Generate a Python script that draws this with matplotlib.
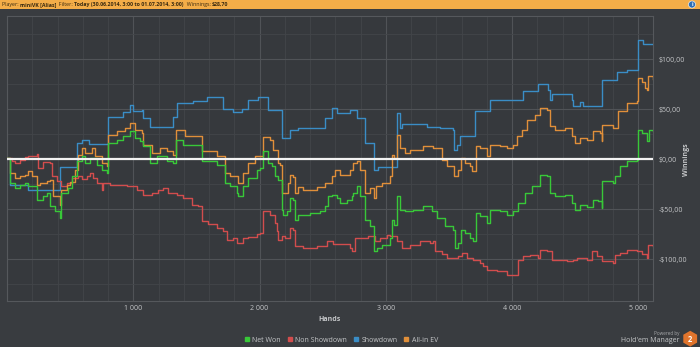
import matplotlib
matplotlib.use("Agg")
import matplotlib.pyplot as plt
import matplotlib.patches as patches
from matplotlib.ticker import MultipleLocator, FuncFormatter

plt.rcParams.update({'font.family': ['Open Sans', 'DejaVu Sans'], 'font.size': 5})

# Cumulative winnings per hand played (USD)
showdown_hands = [0, 24, 169, 420, 557, 591, 650, 802, 921, 974,
                  1000, 1067, 1080, 1133, 1317, 1344, 1476, 1582, 1713, 1793,
                  1859, 1911, 1990, 2070, 2175, 2241, 2307, 2519, 2571, 2611,
                  2717, 2770, 2835, 2907, 2941, 3086, 3110, 3130, 3324, 3429,
                  3530, 3540, 3562, 3588, 3707, 3825, 4089, 4208, 4287, 4300,
                  4314, 4472, 4485, 4538, 4564, 4710, 4829, 4908, 5000, 5040,
                  5116]
showdown = [1, -26, -31, -8, 16, 19, 15, 42, 47, 54,
            48, 49, 41, 32, 42, 56, 58, 62, 50, 47,
            50, 59, 62, 49, 21, 29, 31, 41, 51, 46,
            49, 41, 16, -11, -8, 46, 31, 35, 32, 31,
            29, 9, 14, 23, 48, 59, 68, 75, 69, 59,
            65, 59, 53, 57, 53, 79, 87, 89, 119, 115,
            115]

allin_hands = [0, 24, 63, 103, 143, 169, 195, 235, 261, 314,
               341, 367, 420, 425, 473, 499, 539, 565, 591, 618,
               671, 697, 750, 790, 803, 869, 935, 974, 1014, 1067,
               1080, 1146, 1212, 1265, 1317, 1338, 1410, 1502, 1542, 1661,
               1727, 1766, 1832, 1872, 1911, 1965, 2025, 2083, 2110, 2149,
               2163, 2176, 2229, 2242, 2268, 2281, 2308, 2347, 2453, 2519,
               2572, 2598, 2638, 2717, 2743, 2770, 2796, 2836, 2875, 2907,
               2923, 2968, 3034, 3047, 3065, 3087, 3113, 3153, 3192, 3298,
               3377, 3443, 3483, 3540, 3574, 3593, 3627, 3667, 3680, 3714,
               3746, 3799, 3825, 3904, 3957, 4010, 4036, 4076, 4115, 4181,
               4221, 4274, 4300, 4340, 4419, 4472, 4498, 4538, 4591, 4643,
               4696, 4709, 4715, 4802, 4841, 4907, 4987, 5000, 5026, 5053,
               5066, 5079, 5116]
allin_ev = [1, -14, -19, -17, -16, -12, -17, -26, -24, -22,
            -21, -37, -46, -31, -26, -23, -11, 4, 11, 6,
            11, 3, -4, -7, 24, 28, 31, 36, 29, 26,
            14, 6, 11, 8, 4, 29, 23, 23, 8, 3,
            -14, -17, -24, -14, -4, 3, 22, 19, 9, -4,
            -6, -34, -24, -16, -18, -34, -28, -31, -28, -24,
            -17, -11, -16, -11, -4, -2, -11, -34, -29, -39,
            -27, -24, -17, 4, 1, 24, 11, 6, 9, 13,
            11, -1, -7, -17, -11, 1, -4, -7, -12, 13,
            11, 3, 14, 13, 11, 14, 23, 29, 39, 44,
            51, 49, 33, 29, 31, 23, 16, 21, 19, 28,
            26, 18, 34, 31, 48, 56, 58, 81, 77, 71,
            69, 83, 80]

net_hands = [0, 24, 63, 103, 143, 169, 235, 240, 288, 314,
             341, 380, 420, 428, 486, 512, 557, 591, 618, 657,
             710, 750, 789, 803, 869, 921, 974, 1014, 1053, 1080,
             1133, 1185, 1265, 1317, 1338, 1397, 1515, 1542, 1661, 1727,
             1766, 1819, 1827, 1872, 1911, 1978, 2004, 2025, 2070, 2097,
             2123, 2149, 2176, 2189, 2215, 2242, 2268, 2281, 2308, 2400,
             2479, 2519, 2545, 2572, 2611, 2638, 2691, 2730, 2743, 2770,
             2796, 2836, 2875, 2907, 2928, 2968, 3034, 3047, 3065, 3087,
             3113, 3153, 3219, 3298, 3364, 3403, 3469, 3535, 3548, 3574,
             3593, 3627, 3667, 3693, 3714, 3746, 3799, 3825, 3904, 3957,
             4010, 4049, 4102, 4155, 4221, 4274, 4300, 4340, 4419, 4472,
             4498, 4538, 4591, 4643, 4683, 4709, 4715, 4802, 4815, 4855,
             4907, 4987, 5000, 5026, 5066, 5085, 5116]
net_won = [1, -24, -29, -26, -24, -27, -27, -41, -37, -34,
           -47, -52, -59, -34, -29, -17, -2, 3, -4, 1,
           -6, -11, -14, 16, 19, 23, 28, 21, 18, 13,
           -4, 3, -2, -4, 19, 14, 14, -2, -6, -24,
           -27, -34, -37, -27, -19, -11, -9, 8, -4, -7,
           -17, -21, -51, -56, -52, -39, -41, -61, -56, -54,
           -52, -47, -37, -36, -39, -44, -41, -37, -34, -27,
           -37, -61, -67, -92, -89, -86, -79, -61, -66, -37,
           -51, -52, -51, -47, -52, -59, -67, -71, -89, -84,
           -71, -74, -79, -82, -54, -57, -64, -51, -52, -56,
           -52, -44, -34, -27, -16, -17, -34, -37, -36, -44,
           -51, -46, -48, -41, -42, -49, -22, -24, -17, -7,
           -2, -1, 29, 26, 18, 29, 28]

nonsd_hands = [0, 37, 63, 103, 143, 169, 235, 243, 288, 341,
               354, 393, 425, 473, 512, 565, 591, 631, 657, 684,
               710, 750, 763, 816, 948, 1027, 1080, 1146, 1199, 1238,
               1278, 1344, 1397, 1463, 1515, 1542, 1595, 1661, 1713, 1740,
               1793, 1824, 1872, 1911, 1978, 2004, 2025, 2083, 2123, 2136,
               2149, 2176, 2202, 2242, 2268, 2281, 2347, 2453, 2532, 2585,
               2717, 2730, 2757, 2862, 2915, 2955, 3007, 3034, 3087, 3126,
               3192, 3271, 3351, 3377, 3390, 3443, 3483, 3535, 3574, 3601,
               3640, 3693, 3746, 3772, 3799, 3878, 3957, 4023, 4049, 4089,
               4142, 4208, 4221, 4274, 4313, 4432, 4485, 4511, 4591, 4630,
               4670, 4709, 4802, 4815, 4855, 4907, 4987, 5026, 5066, 5079,
               5116]
non_showdown = [1, -2, -4, -1, 2, 3, 5, -9, -3, -4,
                -17, -22, -27, -24, -19, -17, -20, -17, -14, -19,
                -24, -31, -24, -26, -27, -31, -36, -34, -31, -29,
                -34, -36, -39, -46, -47, -62, -65, -69, -72, -81,
                -79, -84, -79, -78, -75, -74, -52, -56, -64, -72,
                -81, -77, -79, -69, -71, -87, -89, -87, -82, -85,
                -89, -92, -79, -77, -82, -79, -76, -77, -82, -89,
                -86, -82, -84, -82, -92, -95, -99, -99, -97, -94,
                -99, -101, -104, -107, -111, -112, -116, -116, -101, -97,
                -96, -99, -91, -92, -101, -102, -101, -99, -101, -92,
                -97, -102, -104, -96, -94, -91, -92, -95, -99, -86,
                -87]

series = [
    ('Net Won', net_hands, net_won, '#38c838'),
    ('Non Showdown', nonsd_hands, non_showdown, '#d24d4d'),
    ('Showdown', showdown_hands, showdown, '#3a8dc6'),
    ('All-in EV', allin_hands, allin_ev, '#e08f3a'),
]

header = [('Player: ', 'normal'), ('miniVK [Alias]', 'bold'),
          ('  Filter: ', 'normal'), ('Today (30.06.2014, 3:00 to 01.07.2014, 3:00)', 'bold'),
          ('  Winnings: ', 'normal'), ('$28,70', 'bold')]

BG = '#393c40'
TXT = '#c4c6c8'

fig = plt.figure(figsize=(7.0, 3.47), dpi=100, facecolor=BG)
ax = fig.add_axes([0.01, 0.1326, 0.9229, 0.8213])
ax.set_facecolor('#36393d')

# draw order: showdown behind, net won on top
for name, hx, vy, col in [series[2], series[1], series[3], series[0]]:
    ax.plot(hx, vy, drawstyle='steps-post', color=col, lw=1.0, zorder=3)
ax.axhline(0, color='#f2f2f2', lw=1.6, zorder=4)

ax.set_xlim(0, 5116)
ax.set_ylim(-141.7, 143.3)
ax.xaxis.set_major_locator(MultipleLocator(1000))
ax.xaxis.set_minor_locator(MultipleLocator(200))
ax.yaxis.set_major_locator(MultipleLocator(50))
ax.yaxis.set_minor_locator(MultipleLocator(25))
ax.grid(True, which='major', color='#505357', lw=0.8, zorder=0)
ax.grid(True, which='minor', color='#424549', lw=0.6, zorder=0)

ax.yaxis.tick_right()
ax.yaxis.set_label_position('right')


def money(v, pos):
    sign = '-' if v < 0 else ''
    return f'{sign}${abs(v):.2f}'.replace('.', ',')


def thousands(v, pos):
    if v <= 0:
        return ''
    return f'{int(v):,}'.replace(',', ' ')


ax.yaxis.set_major_formatter(FuncFormatter(money))
ax.xaxis.set_major_formatter(FuncFormatter(thousands))
ax.tick_params(which='both', length=0, colors=TXT, labelsize=5, pad=3)
ax.tick_params(axis='y', pad=4)
for s in ax.spines.values():
    s.set_color('#55585c')
    s.set_linewidth(0.8)

fig.text(0.4714, 0.078, 'Hands', color=TXT, fontsize=5, ha='center', va='center',
         fontweight='bold')
fig.text(0.981, 0.54, 'Winnings', color=TXT, fontsize=5, ha='center', va='center',
         rotation=90, fontweight='bold')

# legend row
handles = [patches.Patch(color=c, label=n) for n, _, _, c in series]
leg = fig.legend(handles=handles, loc='center', bbox_to_anchor=(0.488, 0.02),
                 ncol=4, frameon=False, fontsize=5, handlelength=0.55,
                 handleheight=0.55, handletextpad=0.5, columnspacing=1.0)
for t in leg.get_texts():
    t.set_color(TXT)

# header bar
fig.patches.append(patches.Rectangle((0, 0.974), 1, 0.026, transform=fig.transFigure,
                                     facecolor='#f4ad48', edgecolor='none'))
renderer = fig.canvas.get_renderer()
x_px = 2.0
for s, w in header:
    t = fig.text(x_px / 700, 0.987, s, color='#3a2a10', fontsize=3.8, fontweight=w,
                 ha='left', va='center')
    x_px += t.get_window_extent(renderer).width
fig.patches.append(patches.Ellipse((692 / 700, 0.987), 7 / 700, 7 / 347,
                                   transform=fig.transFigure, facecolor='#2f6fb5',
                                   edgecolor='white', lw=0.4))
fig.text(692 / 700, 0.986, 'i', color='white', fontsize=4, fontweight='bold',
         ha='center', va='center')

# branding
fig.text(0.971, 0.038, 'Powered by', color='#a8aaac', fontsize=3.3, ha='right', va='center')
fig.text(0.971, 0.018, "Hold'em Manager", color=TXT, fontsize=5, ha='right', va='center')
logo = fig.add_axes([0.974, 0.0, 0.024, 0.048])
logo.set_axis_off()
logo.set_xlim(-1, 1)
logo.set_ylim(-1, 1)
logo.add_patch(patches.RegularPolygon((0, 0), 6, radius=0.95, facecolor='#e0742c',
                                      edgecolor='none'))
logo.text(0, -0.05, '2', color='white', fontsize=5.5, fontweight='bold',
          ha='center', va='center')

fig.savefig('out.png', dpi=100, facecolor=BG)
